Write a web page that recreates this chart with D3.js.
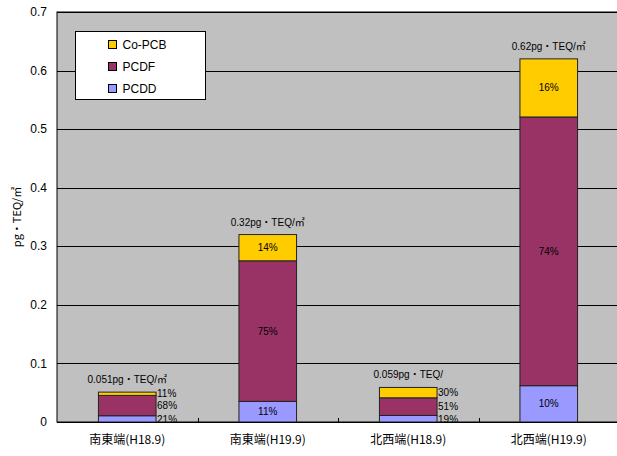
<!DOCTYPE html>
<html>
<head>
<meta charset="utf-8">
<script src="https://cdn.jsdelivr.net/npm/d3@7"></script>
<style>
  body { margin: 0; background: #fff; }
  text { font-family: "Liberation Sans", "Noto Sans CJK JP", sans-serif; fill: #000; }
  .jp { font-family: "Noto Sans CJK JP", sans-serif; }
</style>
</head>
<body>
<div id="chart-area"></div>
<script>
// data
const categories = ["南東端(H18.9)", "南東端(H19.9)", "北西端(H18.9)", "北西端(H19.9)"]
const totals = [0.051, 0.32, 0.059, 0.62]
const totalLabels = ["0.051pg・TEQ/㎡", "0.32pg・TEQ/㎡", "0.059pg・TEQ/", "0.62pg・TEQ/㎡"]
const pcddPct = [21, 11, 19, 10]
const pcdfPct = [68, 75, 51, 74]
const copcbPct = [11, 14, 30, 16]
const yTicks = [0, 0.1, 0.2, 0.3, 0.4, 0.5, 0.6, 0.7]
const seriesNames = ["PCDD", "PCDF", "Co-PCB"]
const seriesColors = ["#9999ff", "#993366", "#ffcc00"]

const width = 617, height = 456
const margin = { top: 12, right: 0, bottom: 34, left: 57 }

const svg = d3.select("#chart-area")
    .append("svg")
    .attr("width", width)
    .attr("height", height)

const x = d3.scaleBand()
    .domain(categories)
    .range([margin.left, margin.left + 562])
    .paddingInner(0.59)
    .paddingOuter(0.295)

const y = d3.scaleLinear()
    .domain([0, 0.7])
    .range([height - margin.bottom, margin.top])

// plot area
svg.append("rect")
    .attr("x", margin.left)
    .attr("y", margin.top)
    .attr("width", 562)
    .attr("height", y(0) - y(0.7))
    .attr("fill", "#c0c0c0")
    .attr("stroke", "#000")

// gridlines
svg.append("g")
    .selectAll("line")
    .data(yTicks.slice(1))
    .join("line")
    .attr("x1", margin.left)
    .attr("x2", margin.left + 562)
    .attr("y1", d => Math.round(y(d)) + 0.5)
    .attr("y2", d => Math.round(y(d)) + 0.5)
    .attr("stroke", "#000")
    .attr("stroke-width", 1)

// y tick labels
svg.append("g")
    .selectAll("text")
    .data(yTicks)
    .join("text")
    .attr("x", margin.left - 10)
    .attr("y", d => y(d))
    .attr("dy", "0.35em")
    .attr("text-anchor", "end")
    .attr("font-size", "12px")
    .text(d => d === 0 ? "0" : d3.format(".1f")(d))

// stacked data
const rows = categories.map((c, i) => ({
    cat: c,
    PCDD: totals[i] * pcddPct[i] / 100,
    PCDF: totals[i] * pcdfPct[i] / 100,
    "Co-PCB": totals[i] * copcbPct[i] / 100,
    pct: [pcddPct[i], pcdfPct[i], copcbPct[i]],
    idx: i
}))
const stack = d3.stack().keys(seriesNames)(rows)

const layers = svg.append("g")
    .selectAll("g")
    .data(stack)
    .join("g")
    .attr("fill", (d, i) => seriesColors[i])

layers.selectAll("rect")
    .data(d => d)
    .join("rect")
    .attr("x", d => x(d.data.cat))
    .attr("width", x.bandwidth())
    .attr("y", d => y(d[1]))
    .attr("height", d => y(d[0]) - y(d[1]))
    .attr("stroke", "#222")
    .attr("stroke-width", 1)

// percent labels
stack.forEach((layer, si) => {
    layer.forEach(d => {
        const i = d.data.idx
        const big = totals[i] > 0.2
        if (big && si === 1 && false) return
        svg.append("text")
            .attr("x", big ? x(d.data.cat) + x.bandwidth() / 2 : x(d.data.cat) + x.bandwidth() + 1)
            .attr("y", (y(d[0]) + y(d[1])) / 2 + (big ? 0 : (si === 0 ? 1 : 0)))
            .attr("dy", "0.35em")
            .attr("text-anchor", big ? "middle" : "start")
            .attr("font-size", "10px")
            .text(d.data.pct[si] + "%")
    })
})

// total labels
svg.append("g")
    .selectAll("text")
    .data(totals)
    .join("text")
    .attr("x", (d, i) => x(categories[i]) + x.bandwidth() / 2)
    .attr("y", d => y(d) - 9)
    .attr("text-anchor", "middle")
    .attr("font-size", "10px")
    .text((d, i) => totalLabels[i])

// x axis
svg.append("line")
    .attr("x1", margin.left).attr("x2", width)
    .attr("y1", y(0) + 0.5).attr("y2", y(0) + 0.5)
    .attr("stroke", "#000")
svg.append("g")
    .selectAll("line")
    .data(categories.slice(1))
    .join("line")
    .attr("x1", d => Math.round(x(d) - x.step() * x.paddingInner() / 2) + 0.5)
    .attr("x2", d => Math.round(x(d) - x.step() * x.paddingInner() / 2) + 0.5)
    .attr("y1", y(0))
    .attr("y2", y(0) - 4)
    .attr("stroke", "#000")

svg.append("g")
    .selectAll("text")
    .data(categories)
    .join("text")
    .attr("class", "jp")
    .attr("x", d => x(d) + x.bandwidth() / 2)
    .attr("y", 444)
    .attr("text-anchor", "middle")
    .attr("font-size", "12px")
    .text(d => d)

// y label
svg.append("text")
    .attr("class", "jp")
    .attr("transform", `translate(21, ${(y(0) + y(0.7)) / 2}) rotate(-90)`)
    .attr("text-anchor", "middle")
    .attr("font-size", "11px")
    .text("pg・TEQ/㎡")

// legend
const legend = svg.append("g").attr("transform", "translate(75.5, 31.5)")
legend.append("rect")
    .attr("width", 130)
    .attr("height", 68)
    .attr("fill", "#fff")
    .attr("stroke", "#000")
const legendItems = [2, 1, 0]
legendItems.forEach((si, k) => {
    legend.append("rect")
        .attr("x", 33)
        .attr("y", 9 + k * 22)
        .attr("width", 8)
        .attr("height", 8)
        .attr("fill", seriesColors[si])
        .attr("stroke", "#000")
    legend.append("text")
        .attr("x", 47)
        .attr("y", 13 + k * 22)
        .attr("dy", "0.35em")
        .attr("font-size", "12px")
        .text(seriesNames[si])
})
</script>
</body>
</html>
